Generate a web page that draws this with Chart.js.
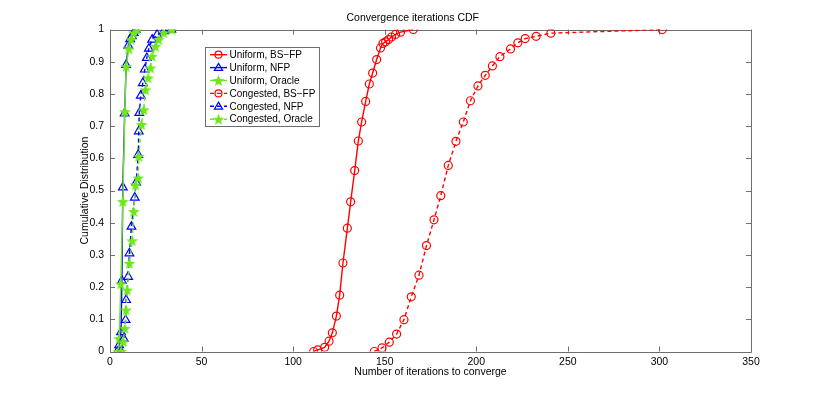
<!DOCTYPE html>
<html lang="en">
<head>
<meta charset="UTF-8" />
<title>Convergence iterations CDF</title>
<script src="https://cdn.jsdelivr.net/npm/chart.js@4.4.1/dist/chart.umd.min.js"></script>
<style>
  html, body { margin:0; padding:0; background:#ffffff; }
  #cdf_chart { display:block; }
</style>
</head>
<body>
<canvas id="cdf_chart" width="830" height="396"></canvas>
<script>
// values
const uniformBsfpX = [111.2,113.4,117.2,119.6,121.4,123.6,125.4,127.2,129.6,131.4,133.6,135.6,137.4,139.6,141.6,143.4,145.6,147.7,149.0,150.5,152.1,153.7,155.9,158.6,165.6];
const uniformBsfpY = [0,0.005,0.013,0.032,0.058,0.11,0.175,0.275,0.383,0.465,0.562,0.654,0.713,0.777,0.831,0.865,0.907,0.943,0.957,0.962,0.969,0.977,0.985,0.992,1.0];

const uniformNfpX = [4,5,6,6.5,7,8,8.8,10,11,12,13,14];
const uniformNfpY = [0,0.02,0.06,0.22,0.51,0.74,0.89,0.95,0.97,0.98,0.99,1.0];

const uniformOracleX = [4.5,5,5.9,7,8.1,8.8,10.3,11.5,13,14.8];
const uniformOracleY = [0,0.04,0.21,0.466,0.745,0.885,0.94,0.97,0.99,1.0];

const congestedBsfpX = [144.3,148.5,152.5,156.5,160.5,164.5,168.7,172.8,176.9,180.6,184.7,188.9,192.9,196.8,200.9,204.9,208.8,212.9,218.7,222.7,226.7,232.7,240.7,301.6];
const congestedBsfpY = [0,0.011,0.029,0.054,0.099,0.17,0.237,0.329,0.409,0.484,0.578,0.653,0.713,0.779,0.825,0.858,0.887,0.916,0.94,0.959,0.972,0.979,0.989,1.0];

const congestedNfpX = [6,7.5,8.5,8.8,9.9,10.6,11.7,13.5,14.3,15.4,15.7,16.0,16.8,17.9,19,20.1,21.2,23,25.7,29.4,33.5];
const congestedNfpY = [0,0.04,0.098,0.16,0.232,0.305,0.388,0.478,0.525,0.611,0.684,0.741,0.795,0.834,0.876,0.912,0.941,0.969,0.984,0.995,1.0];

const congestedOracleX = [6,7.2,8.1,8.8,9.4,10.6,12.1,13,13.9,15.4,15.7,17.2,18.4,19.4,20.8,22.1,23,24.8,26.6,29.4,33.9];
const congestedOracleY = [0,0.03,0.072,0.129,0.191,0.274,0.344,0.435,0.518,0.539,0.606,0.705,0.751,0.813,0.85,0.881,0.917,0.948,0.969,0.99,1.0];

const seriesNames = ['Uniform, BS\u2212FP','Uniform, NFP','Uniform, Oracle','Congested, BS\u2212FP','Congested, NFP','Congested, Oracle'];
const xTicks = [0,50,100,150,200,250,300,350];

const RED = '#ff0000';
const BLUE = '#0000ff';
const GREEN = '#6fe81a';
const FONT = '"Liberation Sans", Arial, sans-serif';

//filled pentagram marker
function makeStar(color, r)
{
	const c = document.createElement('canvas');
	const s = Math.ceil(r*2 + 2);
	c.width = s; c.height = s;
	const g = c.getContext('2d');
	g.beginPath();
	for (let i=0; i<10; i++)
	{
		const rad = (i % 2) ? r*0.42 : r;
		const a = -Math.PI/2 + i*Math.PI/5;
		g.lineTo(s/2 + rad*Math.cos(a), s/2 + 0.6 + rad*Math.sin(a));
	}
	g.closePath();
	g.fillStyle = color;
	g.fill();
	return c;
}
const starImg = makeStar(GREEN, 6.2);

function pts(xs, ys)
{
	return xs.map((x, i) => ({x: x, y: ys[i]}));
}

function series(i, xs, ys, color, marker, dashed)
{
	return {
		label: seriesNames[i],
		data: pts(xs, ys),
		borderColor: color,
		borderWidth: 1.4,
		borderDash: dashed ? [4,3] : [],
		pointStyle: marker == 'star' ? starImg : marker,
		pointRadius: marker == 'circle' ? 4 : 5,
		pointBorderWidth: 1.2,
		pointBorderColor: color,
		pointBackgroundColor: 'rgba(0,0,0,0)',
		tension: 0,
		showLine: true,
		order: 6 - i
	};
}

const datasets = [
	series(0, uniformBsfpX, uniformBsfpY, RED, 'circle', false),
	series(1, uniformNfpX, uniformNfpY, BLUE, 'triangle', false),
	series(2, uniformOracleX, uniformOracleY, GREEN, 'star', false),
	series(3, congestedBsfpX, congestedBsfpY, RED, 'circle', true),
	series(4, congestedNfpX, congestedNfpY, BLUE, 'triangle', true),
	series(5, congestedOracleX, congestedOracleY, GREEN, 'star', true)
];

//box, inward ticks and legend in the matlab way
const framePlugin = {
	id: 'frame',
	beforeDatasetsDraw(chart)
	{
		const ctx = chart.ctx;
		const a = chart.chartArea;
		const xs = chart.scales.x, ys = chart.scales.y;
		ctx.save();
		ctx.strokeStyle = '#6e6e6e';
		ctx.lineWidth = 1;
		ctx.beginPath();
		ctx.rect(Math.round(a.left)+0.5, Math.round(a.top)+0.5, Math.round(a.right-a.left), Math.round(a.bottom-a.top));
		xs.ticks.forEach(t => {
			const px = Math.round(xs.getPixelForValue(t.value)) + 0.5;
			ctx.moveTo(px, a.bottom); ctx.lineTo(px, a.bottom - 5);
			ctx.moveTo(px, a.top); ctx.lineTo(px, a.top + 5);
		});
		ys.ticks.forEach(t => {
			const py = Math.round(ys.getPixelForValue(t.value)) + 0.5;
			ctx.moveTo(a.left, py); ctx.lineTo(a.left + 5, py);
			ctx.moveTo(a.right, py); ctx.lineTo(a.right - 5, py);
		});
		ctx.stroke();
		ctx.restore();
	},
	afterDraw(chart)
	{
		const ctx = chart.ctx;
		const bx = 205.5, by = 47.5, bw = 114, bh = 79;
		ctx.save();
		ctx.fillStyle = '#ffffff';
		ctx.fillRect(bx, by, bw, bh);
		ctx.strokeStyle = '#6e6e6e';
		ctx.lineWidth = 1;
		ctx.strokeRect(bx, by, bw, bh);
		ctx.font = '10px ' + FONT;
		ctx.textBaseline = 'middle';
		chart.data.datasets.forEach((ds, i) => {
			const y = 54.7 + i*12.9;
			ctx.strokeStyle = ds.borderColor;
			ctx.lineWidth = 1.4;
			ctx.setLineDash(ds.borderDash);
			ctx.beginPath();
			ctx.moveTo(210, y); ctx.lineTo(227, y);
			ctx.stroke();
			ctx.setLineDash([]);
			ctx.lineWidth = 1.2;
			if (ds.pointStyle == 'circle')
			{
				ctx.beginPath();
				ctx.arc(218.5, y, 3.5, 0, Math.PI*2);
				ctx.stroke();
			}
			else if (ds.pointStyle == 'triangle')
			{
				ctx.beginPath();
				ctx.moveTo(218.5, y - 4.2);
				ctx.lineTo(222.6, y + 2.8);
				ctx.lineTo(214.4, y + 2.8);
				ctx.closePath();
				ctx.stroke();
			}
			else
			{
				ctx.drawImage(ds.pointStyle, 218.5 - ds.pointStyle.width/2, y - ds.pointStyle.height/2);
			}
			ctx.fillStyle = '#000000';
			ctx.fillText(ds.label, 229.5, y + 0.5);
		});
		ctx.restore();
	}
};

let cdfChart = new Chart(document.getElementById('cdf_chart'), {
	type: 'line',
	data: { datasets: datasets },
	options: {
		responsive: false,
		animation: false,
		layout: { padding: { left: 74.5, right: 79, top: 0, bottom: 13.5 } },
		scales: {
			x: {
				type: 'linear',
				min: 0, max: 350,
				afterFit: s => { s.height = 31; },
				afterBuildTicks: s => { s.ticks = xTicks.map(v => ({value: v})); },
				grid: { display: false, drawTicks: false },
				border: { display: false },
				ticks: { padding: 4, color: '#000', font: { family: FONT, size: 10.5 }, maxRotation: 0, autoSkip: false },
				title: { display: true, text: 'Number of iterations to converge', color: '#000', font: { family: FONT, size: 10.5 }, padding: { top: 2, bottom: 4 } }
			},
			y: {
				type: 'linear',
				min: 0, max: 1,
				afterFit: s => { s.width = 35.5; },
				grid: { display: false, drawTicks: false },
				border: { display: false },
				ticks: { stepSize: 0.1, padding: 6, color: '#000', font: { family: FONT, size: 10.5 },
					callback: v => String(Math.round(v*10)/10) },
				title: { display: true, text: 'Cumulative Distribution', color: '#000', font: { family: FONT, size: 10.5 }, padding: { top: 4, bottom: 2 } }
			}
		},
		plugins: {
			legend: { display: false },
			tooltip: { enabled: false },
			title: { display: true, text: 'Convergence iterations CDF', color: '#000', font: { family: FONT, size: 10.5, weight: 'normal' }, padding: { top: 12, bottom: 5 } }
		}
	},
	plugins: [framePlugin]
});
</script>
</body>
</html>
